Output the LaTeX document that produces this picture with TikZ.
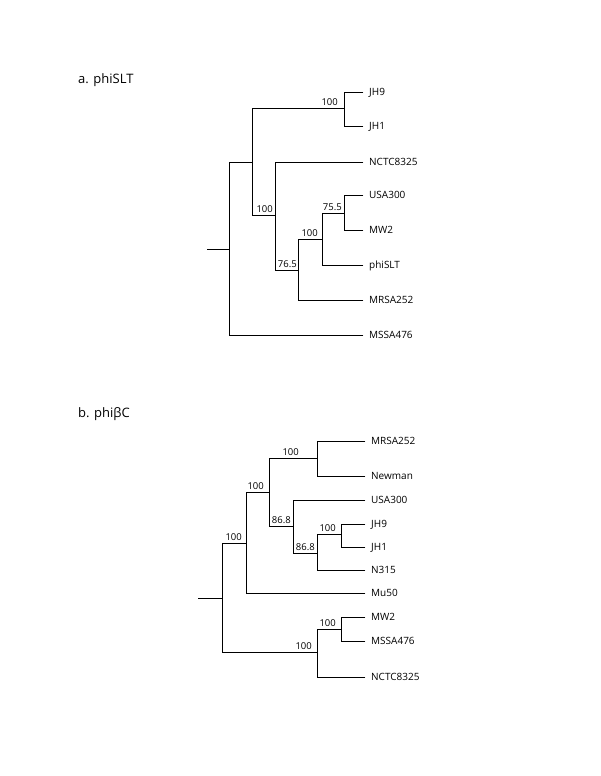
\documentclass[tikz,border=0pt]{standalone}
\usepackage{fontspec}
\setmainfont{Open Sans}
\begin{document}
\begin{tikzpicture}[x=1pt,y=-1pt,
  br/.style={line width=0.8pt, draw=black, line cap=rect},
  leaf/.style={anchor=west, inner xsep=6pt, inner ysep=0pt, text height=7.1pt, text depth=0pt, font=\fontsize{10}{12}\selectfont},
  bs/.style={anchor=base east, inner sep=0pt, font=\fontsize{9.5}{11}\selectfont},
  ttl/.style={anchor=base west, inner sep=0pt, font=\fontsize{13}{15}\selectfont}]
\useasboundingbox (0,0) rectangle (600,776);

% ---------- Tree a ----------
\node[ttl] (ta) at (78,84) {a. phiSLT};
\coordinate (a0) at (207,249);
\coordinate (aR) at (229,249);
\coordinate (a1) at (252,162);
\coordinate (a2) at (344,108);
\coordinate (a3) at (275,215);
\coordinate (a4) at (298,270);
\coordinate (a5) at (322,239);
\coordinate (a6) at (344,213);
\node[leaf] (aJH9) at (363,92) {JH9};
\node[leaf] (aJH1) at (363,126) {JH1};
\node[leaf] (aNCTC) at (363,162) {NCTC8325};
\node[leaf] (aUSA) at (363,195) {USA300};
\node[leaf] (aMW2) at (363,230) {MW2};
\node[leaf] (aphi) at (363,265) {phiSLT};
\node[leaf] (aMRSA) at (363,300) {MRSA252};
\node[leaf] (aMSSA) at (363,335) {MSSA476};
\draw[br] (a0) -- (aR);
\draw[br] (aR) |- (a1);
\draw[br] (aR) |- (aMSSA.west);
\draw[br] (a1) |- (a2);
\draw[br] (a1) |- (a3);
\draw[br] (a2) |- (aJH9.west);
\draw[br] (a2) |- (aJH1.west);
\draw[br] (a3) |- (aNCTC.west);
\draw[br] (a3) |- (a4);
\draw[br] (a4) |- (a5);
\draw[br] (a4) |- (aMRSA.west);
\draw[br] (a5) |- (a6);
\draw[br] (a5) |- (aphi.west);
\draw[br] (a6) |- (aUSA.west);
\draw[br] (a6) |- (aMW2.west);
\node[bs] (la2) at (338,105.5) {100};
\node[bs] (la3) at (273,212.5) {100};
\node[bs] (la4) at (297,267.5) {76.5};
\node[bs] (la5) at (318,236.5) {100};
\node[bs] (la6) at (342,210.5) {75.5};

% ---------- Tree b ----------
\node[ttl] (tb) at (78,417) {b. phiβC};
\coordinate (b0) at (198,598);
\coordinate (bR) at (222,598);
\coordinate (b1) at (246,543);
\coordinate (b2) at (269,492);
\coordinate (b3) at (317,458);
\coordinate (b4) at (293,526);
\coordinate (b5) at (317,553);
\coordinate (b6) at (341,534);
\coordinate (b7) at (317,652);
\coordinate (b8) at (341,629);
\node[leaf] (bMRSA) at (365,441) {MRSA252};
\node[leaf] (bNew) at (365,476) {Newman};
\node[leaf] (bUSA) at (365,500) {USA300};
\node[leaf] (bJH9) at (365,524) {JH9};
\node[leaf] (bJH1) at (365,547) {JH1};
\node[leaf] (bN315) at (365,570) {N315};
\node[leaf] (bMu50) at (365,593) {Mu50};
\node[leaf] (bMW2) at (365,617) {MW2};
\node[leaf] (bMSSA) at (365,641) {MSSA476};
\node[leaf] (bNCTC) at (365,677) {NCTC8325};
\draw[br] (b0) -- (bR);
\draw[br] (bR) |- (b1);
\draw[br] (bR) |- (b7);
\draw[br] (b1) |- (b2);
\draw[br] (b1) |- (bMu50.west);
\draw[br] (b2) |- (b3);
\draw[br] (b2) |- (b4);
\draw[br] (b3) |- (bMRSA.west);
\draw[br] (b3) |- (bNew.west);
\draw[br] (b4) |- (bUSA.west);
\draw[br] (b4) |- (b5);
\draw[br] (b5) |- (b6);
\draw[br] (b5) |- (bN315.west);
\draw[br] (b6) |- (bJH9.west);
\draw[br] (b6) |- (bJH1.west);
\draw[br] (b7) |- (b8);
\draw[br] (b7) |- (bNCTC.west);
\draw[br] (b8) |- (bMW2.west);
\draw[br] (b8) |- (bMSSA.west);
\node[bs] (lb1) at (242,540.5) {100};
\node[bs] (lb2) at (264,489.5) {100};
\node[bs] (lb3) at (299,455.5) {100};
\node[bs] (lb4) at (291,523.5) {86.8};
\node[bs] (lb5) at (315,550.5) {86.8};
\node[bs] (lb6) at (336,531.5) {100};
\node[bs] (lb7) at (312,649.5) {100};
\node[bs] (lb8) at (336,626.5) {100};
\end{tikzpicture}
\end{document}
